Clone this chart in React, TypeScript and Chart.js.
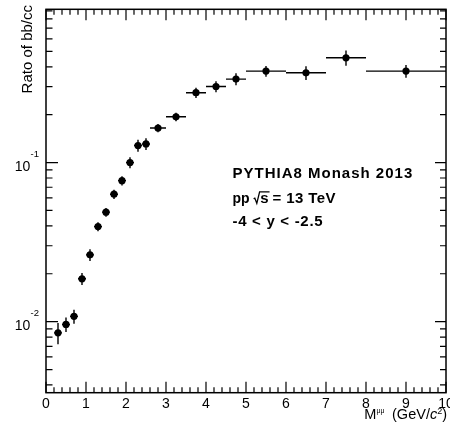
import React, { useEffect, useRef } from "react";
import { Chart, registerables } from "chart.js";

Chart.register(...registerables);

// ---- data ----
const xCenters = [0.3, 0.5, 0.7, 0.9, 1.1, 1.3, 1.5, 1.7, 1.9, 2.1, 2.3, 2.5, 2.8, 3.25, 3.75, 4.25, 4.75, 5.5, 6.5, 7.5, 9];
const xHalfWidths = [0.1, 0.1, 0.1, 0.1, 0.1, 0.1, 0.1, 0.1, 0.1, 0.1, 0.1, 0.1, 0.2, 0.25, 0.25, 0.25, 0.25, 0.5, 0.5, 0.5, 1];
const yValues = [0.0085, 0.0096, 0.0108, 0.0186, 0.0263, 0.0396, 0.0488, 0.0633, 0.077, 0.1, 0.128, 0.131, 0.165, 0.194, 0.275, 0.301, 0.335, 0.376, 0.367, 0.456, 0.376];
const yErrors = [0.0013, 0.001, 0.0011, 0.0016, 0.0022, 0.0026, 0.0031, 0.0042, 0.0052, 0.008, 0.011, 0.011, 0.01, 0.012, 0.02, 0.024, 0.029, 0.029, 0.036, 0.05, 0.035];

const xTickLabels = ["0", "1", "2", "3", "4", "5", "6", "7", "8", "9", "10"];
const xMin = 0;
const xMax = 10;
const yMin = 0.003575;
const yMax = 0.92;
const yMajorTicks = [0.01, 0.1];
const yMajorExponents = ["-2", "-1"];

const annotationLines = ["PYTHIA8 Monash 2013", "pp", "-4 < y < -2.5"];

const FONT = "'Liberation Sans', Arial, Helvetica, sans-serif";

const rootPlugin = {
  id: "rootStyle",
  beforeDatasetsDraw(chart: any) {
    const { ctx } = chart;
    const xs = chart.scales.x;
    const ys = chart.scales.y;
    ctx.save();
    ctx.strokeStyle = "#000";
    ctx.lineWidth = 1.4;
    for (let i = 0; i < xCenters.length; i++) {
      const px = xs.getPixelForValue(xCenters[i]);
      const py = ys.getPixelForValue(yValues[i]);
      ctx.beginPath();
      ctx.moveTo(xs.getPixelForValue(xCenters[i] - xHalfWidths[i]), py);
      ctx.lineTo(xs.getPixelForValue(xCenters[i] + xHalfWidths[i]), py);
      ctx.moveTo(px, ys.getPixelForValue(yValues[i] + yErrors[i]));
      ctx.lineTo(px, ys.getPixelForValue(yValues[i] - yErrors[i]));
      ctx.stroke();
    }
    ctx.restore();
  },
  afterDraw(chart: any) {
    const { ctx, chartArea } = chart;
    const xs = chart.scales.x;
    const ys = chart.scales.y;
    const { left, right, top, bottom } = chartArea;
    ctx.save();
    ctx.strokeStyle = "#000";
    ctx.fillStyle = "#000";

    // frame
    ctx.lineWidth = 1.5;
    ctx.strokeRect(left, top, right - left, bottom - top);

    // x ticks (bottom and top)
    ctx.lineWidth = 1.2;
    ctx.beginPath();
    for (let v = 0; v <= 50; v++) {
      const val = xMin + v * 0.2;
      const px = xs.getPixelForValue(val);
      const major = v % 5 === 0;
      const len = major ? 11 : 5.5;
      ctx.moveTo(px, bottom);
      ctx.lineTo(px, bottom - len);
      ctx.moveTo(px, top);
      ctx.lineTo(px, top + len);
    }
    // y ticks (left and right)
    for (let e = -3; e <= 0; e++) {
      for (let m = 1; m <= 9; m++) {
        const val = m * Math.pow(10, e);
        if (val < yMin || val > yMax) continue;
        const py = ys.getPixelForValue(val);
        const major = m === 1;
        ctx.moveTo(left, py);
        ctx.lineTo(left + (major ? 12 : 6.5), py);
        ctx.moveTo(right, py);
        ctx.lineTo(right - (major ? 11 : 6), py);
      }
    }
    ctx.stroke();

    // x tick labels
    ctx.font = `14px ${FONT}`;
    ctx.textAlign = "center";
    ctx.textBaseline = "alphabetic";
    xTickLabels.forEach((lab, i) => {
      ctx.fillText(lab, xs.getPixelForValue(xMin + i), bottom + 14.8);
    });

    // y tick labels 10^n
    yMajorTicks.forEach((val, i) => {
      const py = ys.getPixelForValue(val);
      ctx.textAlign = "right";
      ctx.font = `9.5px ${FONT}`;
      const supW = ctx.measureText(yMajorExponents[i]).width;
      ctx.fillText(yMajorExponents[i], 39, py - 5.3);
      ctx.font = `14px ${FONT}`;
      ctx.fillText("10", 39 - supW - 0.2, py + 8);
    });

    // y axis title
    ctx.save();
    ctx.translate(32, 5);
    ctx.rotate(-Math.PI / 2);
    ctx.font = `15px ${FONT}`;
    ctx.textAlign = "right";
    ctx.fillText("Rato of bb/cc", 0, 0);
    ctx.restore();

    // x axis title: M^{μμ} (GeV/c^{2})
    const segs: { t: string; f: string; dy: number }[] = [
      { t: "M", f: `14.5px ${FONT}`, dy: 0 },
      { t: "μμ", f: `7px ${FONT}`, dy: -6 },
      { t: " (GeV/", f: `14.5px ${FONT}`, dy: 0 },
      { t: "c", f: `italic 14.5px ${FONT}`, dy: 0 },
      { t: "2", f: `9px ${FONT}`, dy: -5 },
      { t: ")", f: `14.5px ${FONT}`, dy: 0 },
    ];
    ctx.textAlign = "left";
    let total = 0;
    const widths = segs.map((s) => {
      ctx.font = s.f;
      const w = ctx.measureText(s.t).width;
      total += w;
      return w;
    });
    let cx = 447 - total - 3.5;
    const by = 418.5;
    segs.forEach((s, i) => {
      ctx.font = s.f;
      ctx.fillText(s.t, cx, by + s.dy);
      cx += widths[i] + (i === 1 ? 3.5 : 0);
    });

    // annotation
    const ax = 232.5;
    ctx.font = `bold 15px ${FONT}`;
    ctx.textAlign = "left";
    (ctx as any).letterSpacing = "1px";
    ctx.fillText(annotationLines[0], ax, 178.3);
    (ctx as any).letterSpacing = "0px";
    // line 2: pp  √s = 13 TeV
    const b2 = 203.3;
    ctx.font = `bold 14px ${FONT}`;
    ctx.fillText(annotationLines[1], ax, b2);
    const ppW = ctx.measureText(annotationLines[1]).width;
    ctx.font = `bold 15px ${FONT}`;
    const rx = ax + ppW + 4;
    const sW = ctx.measureText("s").width;
    ctx.lineWidth = 1.3;
    ctx.beginPath();
    ctx.moveTo(rx, b2 - 4.5);
    ctx.lineTo(rx + 1.2, b2 - 5.2);
    ctx.lineTo(rx + 3.2, b2);
    ctx.lineTo(rx + 6, b2 - 11.5);
    ctx.lineTo(rx + 6.6 + sW + 1, b2 - 11.5);
    ctx.stroke();
    ctx.fillText("s", rx + 6.6, b2);
    (ctx as any).letterSpacing = "0.4px";
    ctx.fillText("= 13 TeV", rx + 6.6 + sW + 4, b2);
    (ctx as any).letterSpacing = "0.7px";
    ctx.fillText(annotationLines[2], ax, 226);
    (ctx as any).letterSpacing = "0px";

    ctx.restore();
  },
};

export default function App() {
  const ref = useRef<HTMLCanvasElement | null>(null);
  useEffect(() => {
    if (!ref.current) return;
    const chart = new Chart(ref.current, {
      type: "scatter",
      data: {
        datasets: [
          {
            data: xCenters.map((x, i) => ({ x, y: yValues[i] })),
            backgroundColor: "#000",
            borderColor: "#000",
            pointRadius: 3.6,
            pointBorderWidth: 0,
            pointStyle: "circle",
          },
        ],
      },
      options: {
        responsive: false,
        animation: false,
        devicePixelRatio: 1,
        layout: { padding: { left: 46, right: 3, top: 9.3, bottom: 33.3 } },
        plugins: { legend: { display: false }, tooltip: { enabled: false } },
        scales: {
          x: { type: "linear", min: xMin, max: xMax, display: false },
          y: { type: "logarithmic", min: yMin, max: yMax, display: false },
        },
      },
      plugins: [rootPlugin],
    });
    return () => chart.destroy();
  }, []);
  return (
    <div style={{ position: "absolute", left: 0, top: 0, width: 450, height: 426, background: "#fff" }}>
      <canvas ref={ref} width={450} height={426} style={{ display: "block" }} />
    </div>
  );
}
